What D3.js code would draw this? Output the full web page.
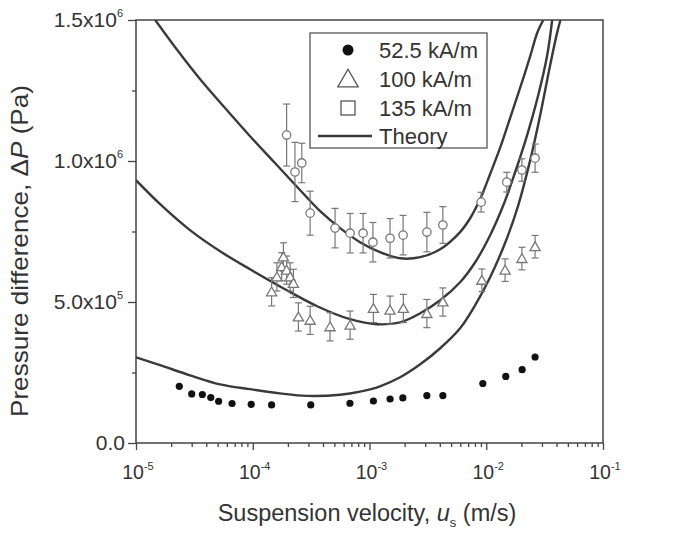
<!DOCTYPE html>
<html><head><meta charset="utf-8">
<script src="https://cdn.jsdelivr.net/npm/d3@7"></script>
<style>
body{margin:0;background:#fff}
text{font-family:Arial,"Liberation Sans",sans-serif;fill:#333}
</style></head>
<body><svg id="c" width="685" height="538"></svg>
<script>
// ---- data ----
const u52 = [2.35e-5,3.0e-5,3.7e-5,4.37e-5,5.1e-5,6.65e-5,9.7e-5,1.45e-4,3.14e-4,6.8e-4,1.08e-3,1.5e-3,1.93e-3,3.1e-3,4.25e-3,9.35e-3,1.47e-2,2.03e-2,2.62e-2];
const p52 = [2.01e5,1.74e5,1.72e5,1.61e5,1.48e5,1.40e5,1.37e5,1.35e5,1.35e5,1.41e5,1.49e5,1.56e5,1.60e5,1.68e5,1.68e5,2.11e5,2.36e5,2.60e5,3.05e5];

const u100 = [1.45e-4,1.61e-4,1.77e-4,1.83e-4,1.95e-4,2.09e-4,2.23e-4,2.46e-4,3.10e-4,4.59e-4,6.82e-4,1.08e-3,1.50e-3,1.95e-3,3.10e-3,4.25e-3,9.17e-3,1.45e-2,2.02e-2,2.62e-2];
const p100 = [5.36e5,5.89e5,6.25e5,6.60e5,6.13e5,5.89e5,5.66e5,4.47e5,4.35e5,4.12e5,4.18e5,4.77e5,4.71e5,4.77e5,4.59e5,5.00e5,5.77e5,6.13e5,6.54e5,6.96e5];
const e100 = [5e4,5e4,5e4,5e4,5e4,5e4,5e4,5e4,5e4,5e4,5e4,5e4,5e4,5e4,5e4,5e4,4e4,4e4,4e4,4e4];

const u135 = [1.95e-4,2.30e-4,2.63e-4,3.10e-4,5.07e-4,6.82e-4,8.81e-4,1.07e-3,1.50e-3,1.94e-3,3.10e-3,4.25e-3,9.04e-3,1.50e-2,2.02e-2,2.62e-2];
const p135 = [1.092e6,9.61e5,9.93e5,8.15e5,7.62e5,7.44e5,7.44e5,7.12e5,7.26e5,7.37e5,7.48e5,7.73e5,8.54e5,9.25e5,9.68e5,1.010e6];
const e135 = [1.1e5,1.05e5,7e4,7.8e4,7e4,7e4,7e4,7e4,7e4,7e4,7e4,6.5e4,3.5e4,3.5e4,4e4,5e4];

const uTh135 = [1.46e-5,2.29e-5,3.53e-5,5.79e-5,9.48e-5,1.55e-4,2.54e-4,3.78e-4,5.60e-4,8.30e-4,1.23e-3,1.83e-3,2.72e-3,4.03e-3,5.97e-3,7.28e-3,8.87e-3,1.08e-2,1.32e-2,1.60e-2,1.95e-2,2.38e-2,2.73e-2,3.08e-2];
const pTh135 = [1.50e6,1.390e6,1.291e6,1.188e6,1.088e6,9.93e5,8.97e5,8.22e5,7.62e5,7.12e5,6.77e5,6.55e5,6.59e5,6.87e5,7.48e5,7.97e5,8.65e5,9.54e5,1.049e6,1.152e6,1.259e6,1.372e6,1.454e6,1.5e6];
const uTh100 = [1e-5,1.61e-5,2.90e-5,5.25e-5,9.48e-5,1.82e-4,3.56e-4,6.82e-4,1.16e-3,1.83e-3,2.72e-3,4.03e-3,5.97e-3,8.04e-3,1.08e-2,1.40e-2,1.77e-2,2.24e-2,2.79e-2,3.33e-2,3.67e-2];
const pTh100 = [9.32e5,8.47e5,7.55e5,6.80e5,6.16e5,5.49e5,4.85e5,4.39e5,4.21e5,4.28e5,4.60e5,5.06e5,5.70e5,6.41e5,7.37e5,8.43e5,9.61e5,1.092e6,1.234e6,1.376e6,1.5e6];
const uTh52 = [1e-5,1.61e-5,2.90e-5,5.25e-5,9.48e-5,1.71e-4,2.92e-4,5.60e-4,8.30e-4,1.23e-3,1.83e-3,2.72e-3,4.03e-3,5.97e-3,8.04e-3,1.08e-2,1.45e-2,1.88e-2,2.38e-2,2.90e-2,3.46e-2,4.02e-2,4.32e-2];
const pTh52 = [3.04e5,2.76e5,2.40e5,2.08e5,1.91e5,1.76e5,1.67e5,1.71e5,1.82e5,2.01e5,2.33e5,2.79e5,3.36e5,4.07e5,4.89e5,5.88e5,7.09e5,8.43e5,1.003e6,1.163e6,1.323e6,1.450e6,1.5e6];

const xTickVals = [1e-5,1e-4,1e-3,1e-2,1e-1];
const xTickExp = ["-5","-4","-3","-2","-1"];
const yTickVals = [0,5e5,1e6,1.5e6];
const yTickMant = ["0.0","5.0x10","1.0x10","1.5x10"];
const yTickExp = ["","5","6","6"];
const legendLabels = ["52.5 kA/m","100 kA/m","135 kA/m","Theory"];

// ---- chart ----
const svg = d3.select("#c");
const L=136,R=603,T=20,B=443;
const x = d3.scaleLog().domain([1e-5,1e-1]).range([L,R]);
const y = d3.scaleLinear().domain([0,1.5e6]).range([B,T]);
const axisCol="#444";

svg.append("defs").append("clipPath").attr("id","clip")
  .append("rect").attr("x",L).attr("y",T).attr("width",R-L).attr("height",B-T);

// frame
svg.append("rect").attr("x",L).attr("y",T).attr("width",R-L).attr("height",B-T)
  .attr("fill","none").attr("stroke",axisCol).attr("stroke-width",1.5);

// x axis ticks
const minorX=[];
for(let e=-5;e<-1;e++) for(let k=2;k<10;k++) minorX.push(k*Math.pow(10,e));
const gx = svg.append("g").attr("transform",`translate(0,${B})`)
  .call(d3.axisBottom(x).tickValues(xTickVals).tickSize(7).tickFormat(""));
gx.append("g").call(d3.axisBottom(x).tickValues(minorX).tickSize(4).tickFormat(""));
gx.selectAll("path.domain").remove();
gx.selectAll("line").attr("stroke",axisCol).attr("stroke-width",1.3);

xTickVals.forEach((v,i)=>{
  const t=svg.append("text").attr("x",x(v)+2).attr("y",479).attr("text-anchor","middle")
    .style("font-size","19.5px");
  t.append("tspan").text("10");
  t.append("tspan").attr("dy",-9).style("font-size","11px").text(xTickExp[i]);
});

// y axis
const gy = svg.append("g").attr("transform",`translate(${L},0)`)
  .call(d3.axisLeft(y).tickValues(yTickVals).tickSize(8).tickFormat(""));
gy.append("g").call(d3.axisLeft(y).tickValues([2.5e5,7.5e5,1.25e6]).tickSize(4).tickFormat(""));
gy.selectAll("path.domain").remove();
gy.selectAll("line").attr("stroke",axisCol).attr("stroke-width",1.3);

yTickVals.forEach((v,i)=>{
  const t=svg.append("text").attr("x",yTickExp[i]?123:125).attr("y",y(v)+7).attr("text-anchor","end")
    .style("font-size","21px");
  t.append("tspan").text(yTickMant[i]);
  if(yTickExp[i]) t.append("tspan").attr("dy",-10).style("font-size","11px").text(yTickExp[i]);
});

// axis titles
const xt=svg.append("text").attr("x",367).attr("y",521).attr("text-anchor","middle").style("font-size","23.5px");
xt.append("tspan").text("Suspension velocity, ");
xt.append("tspan").style("font-style","italic").text("u");
xt.append("tspan").attr("dy",6).style("font-size","13px").text("s");
xt.append("tspan").attr("dy",-6).text(" (m/s)");

const yt=svg.append("text").attr("transform","translate(28,251) rotate(-90)").attr("text-anchor","middle")
  .style("font-size","24px").attr("textLength",332).attr("lengthAdjust","spacingAndGlyphs");
yt.append("tspan").text("Pressure difference, \u0394");
yt.append("tspan").style("font-style","italic").text("P");
yt.append("tspan").text(" (Pa)");

// theory curves
const plot=svg.append("g").attr("clip-path","url(#clip)");
const line=d3.line().x(d=>x(d[0])).y(d=>y(d[1])).curve(d3.curveCatmullRom.alpha(0.5));
[[uTh52,pTh52],[uTh100,pTh100],[uTh135,pTh135]].forEach(([us,ps])=>{
  plot.append("path").datum(us.map((u,i)=>[u,ps[i]])).attr("d",line)
    .attr("fill","none").attr("stroke","#3a3a3a").attr("stroke-width",2.4);
});

// error bars
function errBars(us,ps,es){
  const g=plot.append("g").attr("stroke","#777").attr("stroke-width",1.2);
  us.forEach((u,i)=>{
    const cx=x(u),y1=y(ps[i]+es[i]),y2=y(ps[i]-es[i]);
    g.append("line").attr("x1",cx).attr("x2",cx).attr("y1",y1).attr("y2",y2);
    g.append("line").attr("x1",cx-3.5).attr("x2",cx+3.5).attr("y1",y1).attr("y2",y1);
    g.append("line").attr("x1",cx-3.5).attr("x2",cx+3.5).attr("y1",y2).attr("y2",y2);
  });
}
errBars(u135,p135,e135);
errBars(u100,p100,e100);

// 135 markers
plot.append("g").selectAll("circle").data(u135).join("circle")
  .attr("cx",d=>x(d)).attr("cy",(d,i)=>y(p135[i])).attr("r",4.2)
  .attr("fill","#fff").attr("stroke","#777").attr("stroke-width",1.3);
// 100 markers
const tri=d3.symbol().type(d3.symbolTriangle).size(45);
plot.append("g").selectAll("path").data(u100).join("path")
  .attr("d",tri).attr("transform",(d,i)=>`translate(${x(d)},${y(p100[i])+1})`)
  .attr("fill","#fff").attr("stroke","#777").attr("stroke-width",1.3);
// 52.5 markers
plot.append("g").selectAll("circle").data(u52).join("circle")
  .attr("cx",d=>x(d)).attr("cy",(d,i)=>y(p52[i])).attr("r",3.6).attr("fill","#111");

// legend
const lg=svg.append("g");
lg.append("rect").attr("x",310).attr("y",33).attr("width",177).attr("height",115)
  .attr("fill","#fff").attr("stroke","#555").attr("stroke-width",1.3);
const rowsY=[50,79,108,136];
lg.append("circle").attr("cx",348).attr("cy",rowsY[0]).attr("r",5.5).attr("fill","#111");
lg.append("path").attr("d",d3.symbol().type(d3.symbolTriangle).size(180))
  .attr("transform",`translate(348,${rowsY[1]+2})`).attr("fill","#fff").attr("stroke","#555").attr("stroke-width",1.3);
lg.append("rect").attr("x",341).attr("y",rowsY[2]-7).attr("width",14).attr("height",14)
  .attr("fill","#fff").attr("stroke","#555").attr("stroke-width",1.3);
lg.append("line").attr("x1",318).attr("x2",372).attr("y1",rowsY[3]).attr("y2",rowsY[3])
  .attr("stroke","#3a3a3a").attr("stroke-width",2.4);
legendLabels.forEach((s,i)=>{
  lg.append("text").attr("x",379).attr("y",rowsY[i]+8).style("font-size","22px").text(s);
});
</script></body></html>
